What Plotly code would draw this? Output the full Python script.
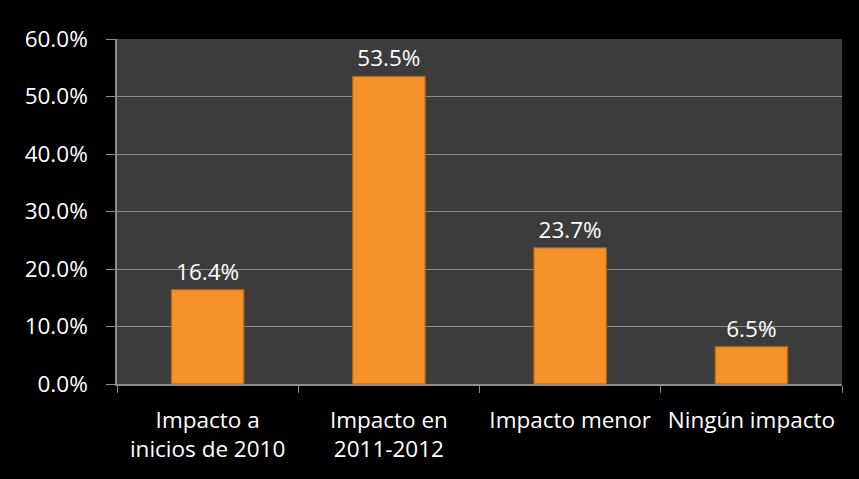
import plotly.graph_objects as go

categories = ["Impacto a<br>inicios de 2010", "Impacto en<br>2011-2012", "Impacto menor", "Ningún impacto"]
values = [16.4, 53.5, 23.7, 6.5]
tick_vals = [0, 10, 20, 30, 40, 50, 60]
tick_text = ["0.0%", "10.0%", "20.0%", "30.0%", "40.0%", "50.0%", "60.0%"]

FONT = "Open Sans"
SIZE = 22.5

fig = go.Figure()
fig.add_trace(go.Bar(
    x=categories,
    y=values,
    width=0.4,
    marker=dict(color="#F5922A", line=dict(color="#B9620E", width=1.2)),
    text=[f"{v:.1f}%" for v in values],
    textposition="outside",
    textfont=dict(color="white", size=SIZE, family=FONT),
    cliponaxis=False,
))

fig.update_layout(
    width=859, height=479,
    paper_bgcolor="black",
    plot_bgcolor="#3c3c3c",
    margin=dict(l=117, r=17, t=39, b=95),
    showlegend=False,
    bargap=0.6,
    uniformtext=dict(minsize=SIZE),
    font=dict(family=FONT, color="white", size=SIZE),
)
fig.update_xaxes(
    showgrid=False,
    showline=True, linecolor="#8c8c8c", linewidth=1.5,
    ticks="outside", tickson="boundaries", ticklen=7, tickcolor="#8c8c8c",
    ticklabelstandoff=15,
    tickfont=dict(color="white", size=SIZE, family=FONT),
)
fig.update_yaxes(
    range=[0, 60],
    tickvals=tick_vals, ticktext=tick_text,
    showgrid=True, gridcolor="#8c8c8c", gridwidth=1.2,
    showline=True, linecolor="#8c8c8c", linewidth=1.5,
    ticks="outside", ticklen=9, tickcolor="#8c8c8c",
    ticklabelstandoff=14,
    zeroline=False,
    tickfont=dict(color="white", size=SIZE, family=FONT),
)

fig.write_html("out.html")
